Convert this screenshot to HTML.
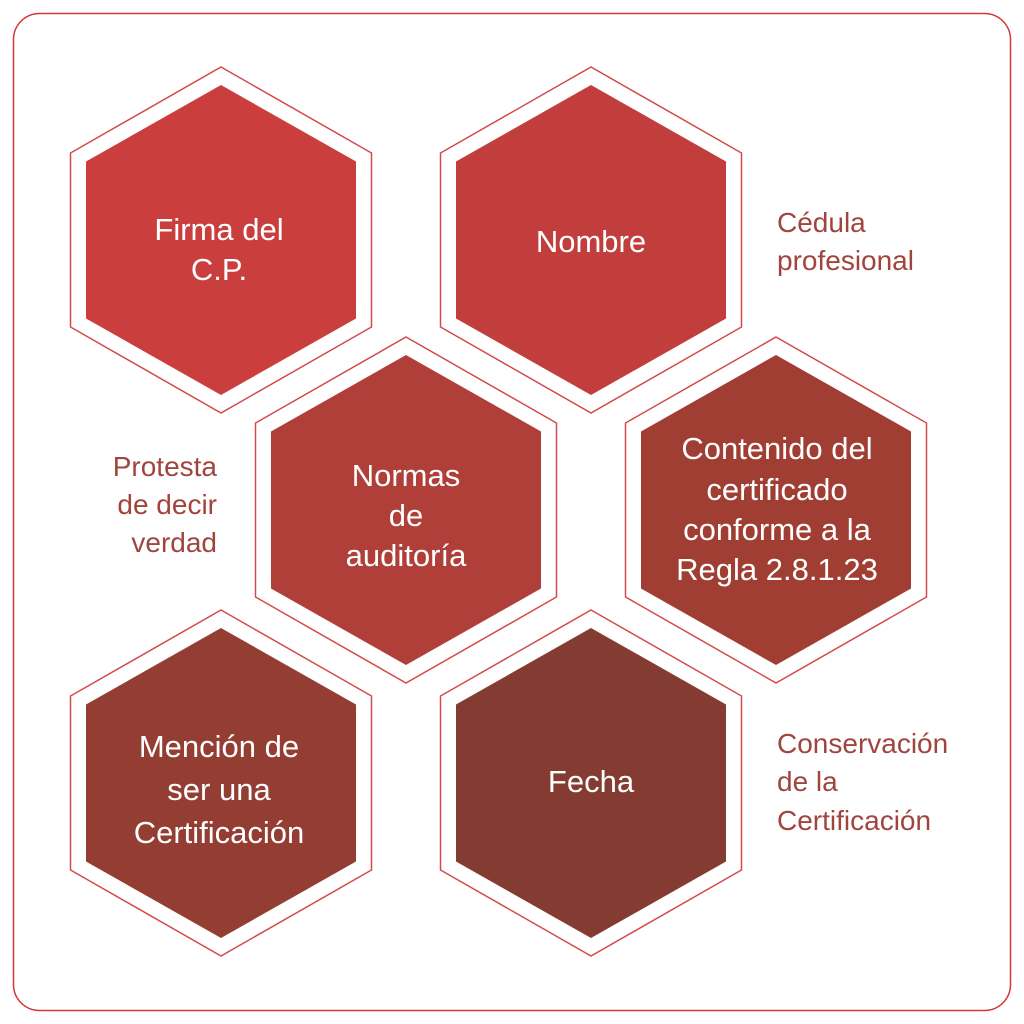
<!DOCTYPE html>
<html><head><meta charset="utf-8"><style>
html,body{margin:0;padding:0;background:#fff}
svg{display:block}
text{font-family:"Liberation Sans",sans-serif}
.w{fill:#fff;font-size:31px;text-anchor:middle}
.l{fill:#a0443e;font-size:28px}
</style></head><body>
<svg width="1024" height="1024" viewBox="0 0 1024 1024">
<rect x="13.5" y="13.5" width="997" height="997" rx="26" fill="#fff" stroke="#d9343a" stroke-width="1.5"/>
<defs>
<polygon id="o" points="0,-173 150.5,-87 150.5,87 0,173 -150.5,87 -150.5,-87" fill="#fff" stroke="#d4494a" stroke-width="1.5"/>
<polygon id="i" points="0,-155 135,-78.5 135,78.5 0,155 -135,78.5 -135,-78.5"/>
</defs>
<g transform="translate(221,240)"><use href="#o"/><use href="#i" fill="#cb3e3e"/></g>
<g transform="translate(591,240)"><use href="#o"/><use href="#i" fill="#c13e3d"/></g>
<g transform="translate(406,510)"><use href="#o"/><use href="#i" fill="#b03f39"/></g>
<g transform="translate(776,510)"><use href="#o"/><use href="#i" fill="#a03e34"/></g>
<g transform="translate(221,783)"><use href="#o"/><use href="#i" fill="#933d33"/></g>
<g transform="translate(591,783)"><use href="#o"/><use href="#i" fill="#843b31"/></g>
<text class="w" x="219" y="240">Firma del</text>
<text class="w" x="219" y="280">C.P.</text>
<text class="w" x="591" y="252">Nombre</text>
<text class="w" x="406" y="486">Normas</text>
<text class="w" x="406" y="526">de</text>
<text class="w" x="406" y="566">auditoría</text>
<text class="w" x="777" y="459">Contenido del</text>
<text class="w" x="777" y="500">certificado</text>
<text class="w" x="777" y="540">conforme a la</text>
<text class="w" x="777" y="580">Regla 2.8.1.23</text>
<text class="w" x="219" y="757">Mención de</text>
<text class="w" x="219" y="800">ser una</text>
<text class="w" x="219" y="843">Certificación</text>
<text class="w" x="591" y="792">Fecha</text>
<text class="l" x="777" y="232">Cédula</text>
<text class="l" x="777" y="270">profesional</text>
<text class="l" x="217" y="476" text-anchor="end">Protesta</text>
<text class="l" x="217" y="514" text-anchor="end">de decir</text>
<text class="l" x="217" y="552" text-anchor="end">verdad</text>
<text class="l" x="777" y="753">Conservación</text>
<text class="l" x="777" y="791">de la</text>
<text class="l" x="777" y="830">Certificación</text>
</svg>
</body></html>
